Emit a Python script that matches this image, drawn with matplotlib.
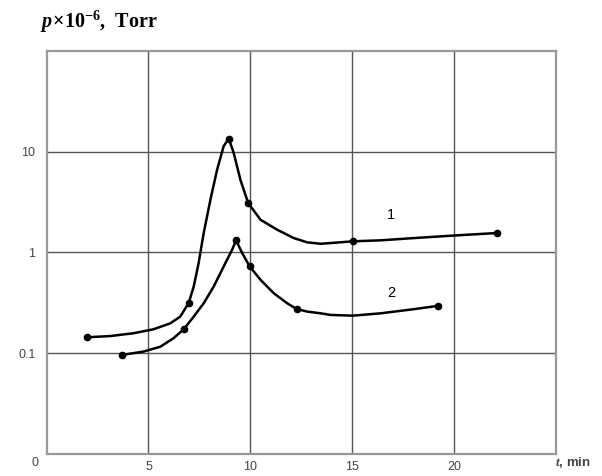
import matplotlib
matplotlib.use("Agg")
import matplotlib.pyplot as plt

# Measured data points (markers)
c1_x = [1.97, 6.97, 8.94, 9.89, 15.02, 22.1]
c1_y = [0.144, 0.314, 13.5, 3.1, 1.29, 1.56]
c2_x = [3.69, 6.73, 9.30, 9.97, 12.27, 19.19]
c2_y = [0.096, 0.173, 1.32, 0.726, 0.275, 0.295]

# Traced curve shapes
t1_x = [1.97, 3.12, 4.27, 5.25, 6.07, 6.56, 6.97, 7.22, 7.46, 7.71, 8.04, 8.37,
        8.69, 8.94, 9.18, 9.51, 9.89, 10.50, 11.32, 12.13, 12.79, 13.45, 13.94,
        15.02, 16.4, 18.04, 19.93, 22.1]
t1_y = [0.144, 0.148, 0.158, 0.173, 0.198, 0.231, 0.314, 0.459, 0.783, 1.56,
        3.34, 6.65, 11.35, 13.5, 9.75, 5.28, 3.1, 2.11, 1.68, 1.39, 1.26, 1.22,
        1.24, 1.29, 1.32, 1.39, 1.47, 1.56]
t2_x = [3.69, 4.76, 5.58, 6.23, 6.73, 7.22, 7.71, 8.2, 8.69, 9.1, 9.30, 9.6,
        9.97, 10.5, 11.15, 11.81, 12.27, 12.79, 13.45, 13.94, 15.02, 16.4,
        18.04, 19.19]
t2_y = [0.096, 0.104, 0.116, 0.141, 0.173, 0.231, 0.313, 0.459, 0.726, 1.06,
        1.32, 0.986, 0.726, 0.535, 0.394, 0.313, 0.275, 0.259, 0.249, 0.240,
        0.236, 0.249, 0.274, 0.295]

x_ticks = [5, 10, 15, 20]
y_ticks = [0.1, 1, 10]
y_ticklabels = ["0.1", "1", "10"]

plt.rcParams['mathtext.fontset'] = 'custom'
plt.rcParams['mathtext.rm'] = 'Liberation Serif:bold'
plt.rcParams['mathtext.it'] = 'Liberation Serif:bold:italic'
plt.rcParams['mathtext.bf'] = 'Liberation Serif:bold'

fig = plt.figure(figsize=(6.02, 4.76), dpi=100)
ax = fig.add_axes([0.0774, 0.0462, 0.8462, 0.8468])
ax.set_yscale('log')
ax.set_xlim(0, 25)
ax.set_ylim(0.01, 100)

ax.set_xticks(x_ticks)
ax.set_xticklabels([str(v) for v in x_ticks])
ax.set_yticks(y_ticks)
ax.set_yticklabels(y_ticklabels)
ax.yaxis.set_minor_locator(matplotlib.ticker.NullLocator())
ax.tick_params(length=0, labelsize=9, labelcolor='#444444', pad=8,
               labelfontfamily='Liberation Sans')
ax.tick_params(axis='x', pad=5)

ax.grid(True, which='major', color='#555555', linewidth=1.0)
ax.set_axisbelow(True)
for s in ax.spines.values():
    s.set_color('#999999')
    s.set_linewidth(1.6)

ax.plot(t1_x, t1_y, color='black', lw=1.8, solid_capstyle='round', solid_joinstyle='round')
ax.plot(t2_x, t2_y, color='black', lw=1.8, solid_capstyle='round', solid_joinstyle='round')
ax.plot(c1_x, c1_y, 'o', color='black', ms=4.5)
ax.plot(c2_x, c2_y, 'o', color='black', ms=4.5)

ax.text(16.9, 2.37, "1", fontsize=10.5, family='Liberation Sans', ha='center', va='center')
ax.text(16.9, 0.394, "2", fontsize=10.5, family='Liberation Sans', ha='center', va='center')

fig.text(35 / 602, 1 - 463 / 476, "0", fontsize=9, color='#444444',
         family='Liberation Sans', ha='center', va='center')
fig.text(555 / 602, 1 - 463 / 476, "$\\it{t}$, min", fontsize=9.5, color='#444444',
         family='Liberation Sans', fontweight='bold', ha='left', va='center')
fig.text(40 / 602, 1 - 22 / 476, "$\\it{p}\\!\\times\\!10^{\\mathrm{-6}}$,  Torr", fontsize=14.5,
         family='Liberation Serif', fontweight='bold', ha='left', va='center')

fig.savefig("out.png", dpi=100)
